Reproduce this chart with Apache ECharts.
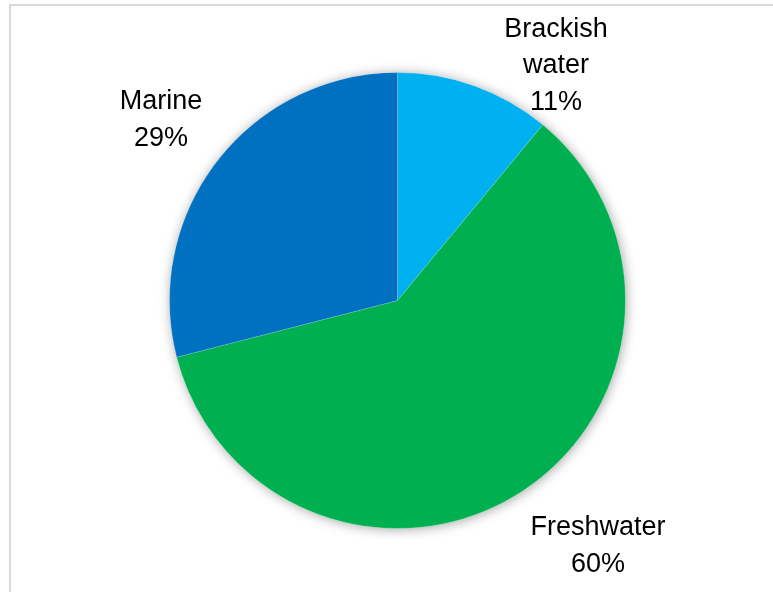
<!DOCTYPE html>
<html>
<head>
<meta charset="utf-8">
<script src="https://cdn.jsdelivr.net/npm/echarts@6/dist/echarts.min.js"></script>
<style>
html,body{margin:0;padding:0;background:#fff;}
#chart{width:773px;height:592px;}
</style>
</head>
<body>
<div id="chart"></div>
<script>
var categories = ['Brackish\nwater', 'Freshwater', 'Marine'];
var values = [11, 60, 29];
var colors = ['#00B0F0', '#00B050', '#0070C0'];

var data = categories.map(function (c, i) {
  return { name: c, value: values[i], itemStyle: { color: colors[i] } };
});
var shadowData = categories.map(function (c, i) {
  return { name: c, value: values[i] };
});

var labelPos = [
  { x: 556, y: 66 },
  { x: 598, y: 546 },
  { x: 161, y: 120 }
];

var chart = echarts.init(document.getElementById('chart'), null, { renderer: 'canvas' });
chart.setOption({
  backgroundColor: '#fff',
  animation: false,
  graphic: [{
    type: 'rect',
    shape: { x: 10, y: 5, width: 800, height: 700 },
    style: { fill: 'none', stroke: '#d9d9d9', lineWidth: 2 },
    z: 0
  }],
  series: [{
    type: 'pie',
    silent: true,
    z: 1,
    center: [397.5, 300.5],
    radius: 228,
    startAngle: 90,
    data: shadowData,
    label: { show: false },
    labelLine: { show: false },
    itemStyle: { color: '#fff', shadowBlur: 12, shadowColor: 'rgba(0,0,0,0.35)', shadowOffsetX: 1, shadowOffsetY: 1 }
  }, {
    type: 'pie',
    z: 2,
    center: [397.5, 300.5],
    radius: 228,
    startAngle: 90,
    data: data,
    itemStyle: { borderColor: 'rgba(255,255,255,0.35)', borderWidth: 0.5 },
    labelLine: { show: false },
    label: {
      show: true,
      position: 'outside',
      formatter: function (p) { return p.name + '\n' + p.value + '%'; },
      fontFamily: 'Liberation Sans, Arial, sans-serif',
      fontSize: 27,
      lineHeight: 36.5,
      color: '#000',
      align: 'center'
    },
    labelLayout: function (params) {
      var p = labelPos[params.dataIndex];
      return { x: p.x, y: p.y, align: 'center', verticalAlign: 'middle' };
    }
  }]
});
</script>
</body>
</html>
